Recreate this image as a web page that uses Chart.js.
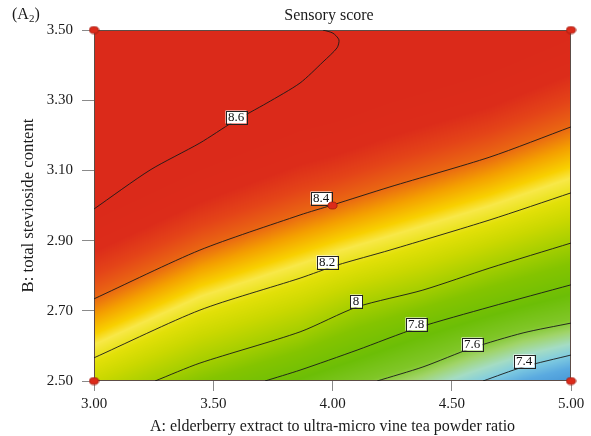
<!DOCTYPE html>
<html>
<head>
<meta charset="utf-8">
<script src="https://cdn.jsdelivr.net/npm/chart.js@4.4.1/dist/chart.umd.min.js"></script>
<style>
    html, body { margin: 0; padding: 0; background: #fff; }
    #wrap { width: 591px; height: 436px; }
</style>
</head>
<body>
<div id="wrap"><canvas id="chartSurface" width="591" height="436"></canvas></div>
<script>
'use strict';

// ─────────────────────────────────────────────────────────────────────────────
// Données (A = ratio, B = stéviosides)
// ─────────────────────────────────────────────────────────────────────────────

var xTicks = [3.00, 3.50, 4.00, 4.50, 5.00];
var yTicks = [2.50, 2.70, 2.90, 3.10, 3.30, 3.50];

var levels = [8.6, 8.4, 8.2, 8.0, 7.8, 7.6, 7.4];
var levelLabels = ['8.6', '8.4', '8.2', '8', '7.8', '7.6', '7.4'];

// tracé de chaque courbe de niveau
var c86A = [3.00, 3.235, 3.444, 3.583, 3.725, 3.864, 3.960, 4.019, 4.027, 4.002, 3.960];
var c86B = [2.990, 3.101, 3.178, 3.238, 3.292, 3.349, 3.409, 3.449, 3.472, 3.491, 3.500];
var c84A = [3.00, 3.444, 3.864, 3.998, 4.241, 4.660, 5.00];
var c84B = [2.734, 2.873, 2.973, 3.001, 3.053, 3.138, 3.224];
var c82A = [3.00, 3.444, 3.864, 4.019, 4.241, 4.660, 5.00];
var c82B = [2.566, 2.702, 2.793, 2.830, 2.873, 2.959, 3.036];
var c80A = [3.256, 3.444, 3.864, 4.103, 4.379, 4.660, 5.00];
var c80B = [2.500, 2.551, 2.640, 2.711, 2.759, 2.822, 2.893];
var c78A = [3.717, 3.864, 4.103, 4.354, 4.660, 5.00];
var c78B = [2.500, 2.531, 2.588, 2.651, 2.711, 2.774];
var c76A = [4.187, 4.379, 4.585, 4.799, 5.00];
var c76B = [2.500, 2.540, 2.594, 2.637, 2.665];
var c74A = [4.631, 4.799, 5.00];
var c74B = [2.500, 2.540, 2.574];

var contourA = [c86A, c84A, c82A, c80A, c78A, c76A, c74A];
var contourB = [c86B, c84B, c82B, c80B, c78B, c76B, c74B];

// emplacement des étiquettes de niveau
var labelA = [3.595, 3.952, 3.977, 4.099, 4.350, 4.587, 4.805];
var labelB = [3.252, 3.020, 2.840, 2.727, 2.662, 2.605, 2.557];

// points du plan d'expériences
var designA = [3.00, 5.00, 3.00, 5.00, 4.00];
var designB = [3.50, 3.50, 2.50, 2.50, 3.00];

// ─────────────────────────────────────────────────────────────────────────────
// Palette (bleu → vert → jaune → rouge)
// ─────────────────────────────────────────────────────────────────────────────

var PALETTE = [
    [7.20, [63, 143, 211]],
    [7.32, [90, 170, 224]],
    [7.40, [128, 204, 224]],
    [7.47, [164, 220, 196]],
    [7.55, [160, 212, 104]],
    [7.62, [128, 198, 40]],
    [7.75, [108, 190, 6]],
    [7.90, [132, 196, 0]],
    [8.00, [164, 206, 0]],
    [8.10, [202, 216, 0]],
    [8.18, [226, 224, 8]],
    [8.245, [248, 232, 72]],
    [8.28, [248, 208, 0]],
    [8.34, [244, 160, 0]],
    [8.40, [234, 104, 18]],
    [8.48, [228, 68, 24]],
    [8.56, [220, 44, 26]],
    [8.70, [219, 42, 26]]
];

var FONT = 'Liberation Serif, Times New Roman, serif';

function colourFor(v) {
    if (v <= PALETTE[0][0]) return PALETTE[0][1];
    for (var i = 1; i < PALETTE.length; i++) {
        if (v <= PALETTE[i][0]) {
            var t = (v - PALETTE[i - 1][0]) / (PALETTE[i][0] - PALETTE[i - 1][0]);
            var c0 = PALETTE[i - 1][1], c1 = PALETTE[i][1];
            return [c0[0] + t * (c1[0] - c0[0]), c0[1] + t * (c1[1] - c0[1]), c0[2] + t * (c1[2] - c0[2])];
        }
    }
    return PALETTE[PALETTE.length - 1][1];
}

// B où la courbe (pa, pb) coupe la verticale A = a ;
// hors du tracé, on prolonge le segment d'extrémité (sous le cadre)
function crossingAt(pa, pb, a) {
    var n = pa.length;
    for (var i = 0; i < n - 1; i++) {
        var a0 = pa[i], a1 = pa[i + 1];
        if (a0 !== a1 && (a - a0) * (a - a1) <= 0) {
            var t = (a - a0) / (a1 - a0);
            return pb[i] + t * (pb[i + 1] - pb[i]);
        }
    }
    if (a < pa[0]) {
        return pb[0] + (a - pa[0]) * (pb[1] - pb[0]) / (pa[1] - pa[0]);
    }
    return pb[n - 1] + (a - pa[n - 1]) * (pb[n - 1] - pb[n - 2]) / (pa[n - 1] - pa[n - 2]);
}

// la courbe 8.6 se referme : le rouge est atteint avant, on colore à partir de 8.4
function columnCrossings(a) {
    var list = [];
    for (var i = 1; i < levels.length; i++) {
        list.push([crossingAt(contourA[i], contourB[i], a), levels[i]]);
    }
    list.sort(function(p, q) { return p[0] - q[0]; });
    return list;
}

function valueAt(list, b) {
    var n = list.length;
    if (b <= list[0][0]) {
        return list[0][1] - (list[0][0] - b) * (list[1][1] - list[0][1]) / (list[1][0] - list[0][0]);
    }
    for (var i = 1; i < n; i++) {
        if (b <= list[i][0]) {
            var t = (b - list[i - 1][0]) / (list[i][0] - list[i - 1][0]);
            return list[i - 1][1] + t * (list[i][1] - list[i - 1][1]);
        }
    }
    return list[n - 1][1] + (b - list[n - 1][0]) * (list[n - 1][1] - list[n - 2][1]) / (list[n - 1][0] - list[n - 2][0]);
}

// marqueur elliptique rouge
function makeMarker() {
    var cv = document.createElement('canvas');
    cv.width = 11;
    cv.height = 9;
    var g = cv.getContext('2d');
    g.beginPath();
    g.ellipse(5.5, 4.5, 4.6, 3.5, 0, 0, Math.PI * 2);
    g.fillStyle = '#dc2a1a';
    g.fill();
    g.lineWidth = 0.8;
    g.strokeStyle = '#9a1a10';
    g.stroke();
    return cv;
}

// ─────────────────────────────────────────────────────────────────────────────
// Plugins
// ─────────────────────────────────────────────────────────────────────────────

var surfacePlugin = {
    id: 'surface',
    beforeDatasetsDraw: function(chart) {
        var area = chart.chartArea;
        var xs = chart.scales.x, ys = chart.scales.y;
        var w = Math.round(area.right - area.left);
        var h = Math.round(area.bottom - area.top);
        var off = document.createElement('canvas');
        off.width = w;
        off.height = h;
        var octx = off.getContext('2d');
        var img = octx.createImageData(w, h);
        for (var px = 0; px < w; px++) {
            var a = xs.getValueForPixel(area.left + px + 0.5);
            var list = columnCrossings(a);
            for (var py = 0; py < h; py++) {
                var b = ys.getValueForPixel(area.top + py + 0.5);
                var col = colourFor(valueAt(list, b));
                var k = (py * w + px) * 4;
                img.data[k] = col[0];
                img.data[k + 1] = col[1];
                img.data[k + 2] = col[2];
                img.data[k + 3] = 255;
            }
        }
        octx.putImageData(img, 0, 0);
        var ctx = chart.ctx;
        ctx.save();
        ctx.drawImage(off, area.left, area.top);
        ctx.strokeStyle = '#5c4c46';
        ctx.lineWidth = 1;
        ctx.strokeRect(area.left + 0.5, area.top + 0.5, w - 1, h - 1);
        ctx.restore();
    },
    afterDatasetDraw: function(chart, args) {
        if (args.index !== 1) return;
        var ctx = chart.ctx;
        var xs = chart.scales.x, ys = chart.scales.y;
        ctx.save();
        ctx.font = '13px ' + FONT;
        ctx.textAlign = 'center';
        ctx.textBaseline = 'middle';
        for (var i = 0; i < levelLabels.length; i++) {
            var cx = Math.round(xs.getPixelForValue(labelA[i]));
            var cy = Math.round(ys.getPixelForValue(labelB[i]));
            var tw = ctx.measureText(levelLabels[i]).width;
            var bw = Math.round(tw + 5), bh = 13;
            ctx.fillStyle = '#fff';
            ctx.fillRect(cx - bw / 2, cy - bh / 2, bw, bh);
            ctx.strokeStyle = '#222';
            ctx.lineWidth = 1;
            ctx.strokeRect(Math.round(cx - bw / 2) + 0.5, Math.round(cy - bh / 2) + 0.5, bw, bh);
            ctx.fillStyle = '#111';
            ctx.fillText(levelLabels[i], cx, cy + 1);
        }
        ctx.restore();
    },
    afterDraw: function(chart) {
        var ctx = chart.ctx;
        ctx.save();
        ctx.fillStyle = '#1a1a1a';
        ctx.textBaseline = 'alphabetic';
        ctx.font = '16px ' + FONT;
        ctx.textAlign = 'center';
        ctx.fillText('Sensory score', 329, 20);
        // (A2) avec indice
        ctx.textAlign = 'left';
        var x = 12;
        ctx.fillText('(A', x, 19);
        x += ctx.measureText('(A').width;
        ctx.font = '11px ' + FONT;
        ctx.fillText('2', x, 22);
        x += ctx.measureText('2').width;
        ctx.font = '16px ' + FONT;
        ctx.fillText(')', x, 19);
        ctx.restore();
    }
};

// ─────────────────────────────────────────────────────────────────────────────
// Graphique
// ─────────────────────────────────────────────────────────────────────────────

function initSurfaceChart(ctx) {
    if (!ctx) return;

    var datasets = [{
        label: 'Design points',
        data: designA.map(function(a, i) { return { x: a, y: designB[i] }; }),
        pointStyle: makeMarker(),
        pointRadius: 4,
        showLine: false,
        clip: false
    }];

    for (var i = 0; i < levels.length; i++) {
        datasets.push({
            label: levelLabels[i],
            data: contourA[i].map(function(a, j) { return { x: a, y: contourB[i][j] }; }),
            showLine: true,
            borderColor: 'rgba(25,25,25,0.9)',
            borderWidth: 1,
            tension: 0.25,
            pointRadius: 0,
            fill: false
        });
    }

    var tickFont = { family: FONT, size: 15 };

    return new Chart(ctx, {
        type: 'scatter',
        data: { datasets: datasets },
        plugins: [surfacePlugin],
        options: {
            responsive: false,
            devicePixelRatio: 1,
            animation: false,
            layout: { padding: { top: 30, right: 20, left: 0, bottom: 0 } },
            plugins: {
                legend: { display: false },
                tooltip: { enabled: false }
            },
            scales: {
                x: {
                    type: 'linear',
                    min: xTicks[0],
                    max: xTicks[xTicks.length - 1],
                    afterBuildTicks: function(scale) {
                        scale.ticks = xTicks.map(function(v) { return { value: v }; });
                    },
                    afterFit: function(scale) { scale.height = 55; },
                    ticks: {
                        autoSkip: false,
                        maxRotation: 0,
                        padding: 4,
                        color: '#1a1a1a',
                        font: tickFont,
                        callback: function(v) { return Number(v).toFixed(2); }
                    },
                    grid: { drawOnChartArea: false, drawTicks: true, tickLength: 10, color: '#8a8a8a' },
                    border: { display: false },
                    title: {
                        display: true,
                        text: 'A: elderberry extract to ultra-micro vine tea powder ratio',
                        color: '#1a1a1a',
                        font: { family: FONT, size: 16 },
                        padding: { top: 0, bottom: 0 }
                    }
                },
                y: {
                    type: 'linear',
                    min: yTicks[0],
                    max: yTicks[yTicks.length - 1],
                    afterBuildTicks: function(scale) {
                        scale.ticks = yTicks.map(function(v) { return { value: v }; });
                    },
                    afterFit: function(scale) { scale.width = 94; },
                    ticks: {
                        autoSkip: false,
                        padding: 9,
                        color: '#1a1a1a',
                        font: tickFont,
                        callback: function(v) { return Number(v).toFixed(2); }
                    },
                    grid: { drawOnChartArea: false, drawTicks: true, tickLength: 12, color: '#8a8a8a' },
                    border: { display: false },
                    title: {
                        display: true,
                        text: 'B: total stevioside content',
                        color: '#1a1a1a',
                        font: { family: FONT, size: 16.7 },
                        padding: { top: 19, bottom: 0 }
                    }
                }
            }
        }
    });
}

window.chartSurface = initSurfaceChart(document.getElementById('chartSurface'));
</script>
</body>
</html>
